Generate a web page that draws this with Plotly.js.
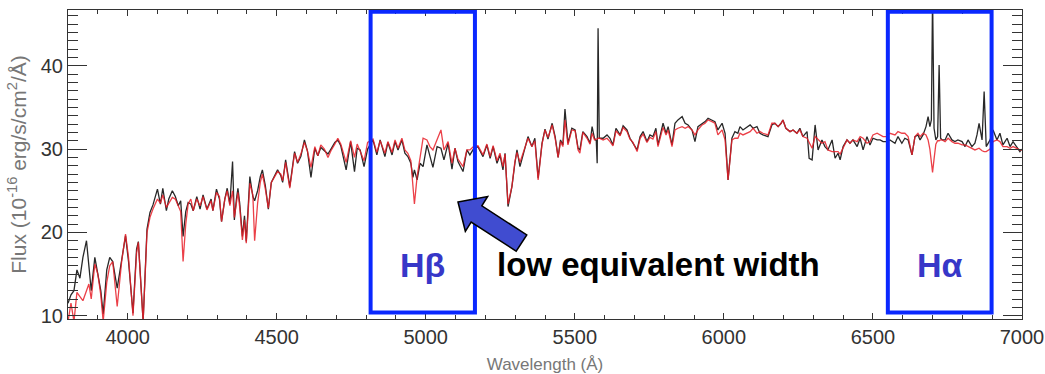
<!DOCTYPE html>
<html><head><meta charset="utf-8">
<script src="https://cdn.plot.ly/plotly-3.0.1.min.js"></script>
<style>html,body{margin:0;padding:0;background:#fff;} #chart{width:1045px;height:374px;}</style>
</head><body><div id="chart"></div>
<script>
const wavelength = [
3800,3810,3820,3830,3840,3850,3862,3870,3878,3890,
3900,3910,3918,3930,3940,3950,3965,3980,3993,4003,
4018,4030,4036,4052,4065,4075,4085,4100,4110,4118,
4130,4138,4150,4160,4170,4178,4186,4195,4203,4212,
4220,4232,4243,4253,4266,4280,4286,4298,4308,4315,
4326,4334,4343,4352,4358,4365,4370,4376,4385,4392,
4398,4410,4420,4426,4436,4445,4452,4462,4472,4482,
4494,4503,4514,4520,4530,4544,4560,4570,4581,4593,
4603,4615,4628,4638,4648,4660,4672,4682,4695,4705,
4715,4733,4748,4761,4770,4780,4793,4805,4823,4836,
4847,4863,4873,4887,4897,4907,4920,4930,4940,4950,
4957,4962,4971,4981,4991,5004,5014,5024,5038,5051,
5061,5075,5088,5098,5108,5125,5138,5148,5160,5175,
5192,5205,5216,5226,5239,5249,5259,5266,5276,5289,
5299,5306,5316,5333,5343,5356,5366,5377,5390,5400,
5410,5424,5434,5444,5452,5460,5467,5477,5490,5501,
5511,5517,5527,5541,5551,5558,5566,5572,5575,5578,
5582,5595,5608,5618,5628,5638,5652,5662,5675,5685,
5695,5709,5719,5729,5742,5752,5762,5772,5779,5792,
5796,5806,5813,5826,5836,5846,5860,5870,5880,5893,
5903,5913,5927,5937,5947,5960,5970,5980,5994,6004,
6014,6027,6037,6047,6054,6064,6078,6088,6098,6111,
6121,6131,6148,6161,6171,6182,6192,6198,6208,6222,
6232,6245,6255,6265,6279,6286,6296,6306,6316,6329,
6339,6349,6363,6373,6383,6390,6400,6413,6423,6433,
6447,6457,6467,6480,6490,6500,6514,6524,6534,6545,
6557,6574,6584,6597,6607,6618,6631,6641,6651,6658,
6668,6678,6685,6691,6696,6700,6705,6711,6717,6722,
6727,6732,6742,6752,6765,6775,6785,6799,6809,6819,
6832,6842,6849,6856,6866,6873,6880,6893,6903,6916,
6926,6936,6950,6960,6970,6983,6993,7000];

const fluxObserved = [
11.5,12.5,13.0,15.5,14.5,17.0,19.0,16.0,13.0,17.0,
15.0,13.0,10.2,15.5,17.0,16.5,13.3,17.0,19.6,16.5,
10.3,18.0,18.9,9.3,20.4,22.4,23.3,25.2,23.4,25.3,
22.6,24.0,25.0,24.3,23.2,23.8,19.5,22.5,23.6,23.4,
22.6,24.3,22.8,24.5,22.8,24.0,22.6,25.2,24.0,21.3,
24.0,25.3,23.4,28.5,21.5,24.0,25.3,23.5,19.5,22.0,
18.9,26.7,24.3,23.8,25.0,26.7,27.5,25.6,22.8,26.0,
26.8,27.5,26.8,26.0,28.7,25.5,29.7,28.3,29.1,31.1,
29.8,26.6,30.1,29.2,30.2,29.8,29.4,30.0,30.8,31.1,
30.4,27.5,30.9,27.3,30.1,29.9,27.9,30.0,31.1,29.3,
31.1,29.1,30.8,29.3,30.9,29.9,31.1,29.5,29.1,28.3,
26.6,27.5,26.3,28.3,27.9,30.5,29.3,27.8,30.3,30.1,
28.7,30.7,27.6,30.1,28.5,27.3,29.9,29.3,30.0,30.3,
29.1,30.5,28.9,30.3,28.3,29.3,27.5,29.5,23.1,25.5,
28.3,29.9,27.9,30.3,31.5,30.3,31.3,26.5,30.7,32.4,
31.2,33.1,31.5,29.0,31.1,30.5,34.8,30.7,32.5,32.3,
30.1,29.9,32.1,31.5,30.7,32.7,31.3,31.0,28.3,44.5,
31.3,31.3,31.7,31.3,30.5,32.5,31.7,32.8,32.3,31.3,
30.7,29.9,31.5,32.1,30.9,31.7,31.5,32.5,30.5,32.5,
33.1,31.9,32.7,30.5,33.1,33.5,33.9,33.1,32.9,32.3,
30.9,32.7,33.1,33.3,33.7,33.5,33.3,32.3,33.1,31.9,
26.3,31.3,32.1,31.9,32.7,32.3,32.7,32.9,32.5,32.7,
31.9,31.7,31.5,32.9,33.1,32.7,33.1,33.5,32.5,32.1,
32.3,31.9,32.5,31.5,32.1,28.9,28.7,32.9,29.9,31.1,
30.3,29.9,31.1,28.9,29.5,28.7,30.3,31.1,30.7,31.1,
30.3,31.3,29.9,31.5,30.5,31.3,31.1,31.1,30.9,30.9,
31.1,30.7,31.5,30.7,31.3,31.1,29.3,31.5,31.7,31.1,
31.7,32.7,33.9,32.7,33.5,48.5,32.5,31.1,31.5,40.1,
31.3,31.1,31.1,31.9,31.1,30.9,31.1,30.9,30.3,31.1,
30.3,30.7,31.7,33.1,31.1,36.9,30.3,31.1,32.3,31.1,
31.9,30.5,31.3,30.3,30.9,30.3,29.7,30.0];

const fluxModel = [
9.3,11.5,9.3,12.8,12.3,11.8,13.0,13.8,12.0,16.2,
15.0,12.5,9.3,14.0,16.0,16.5,11.1,16.5,19.8,17.0,
10.0,17.5,18.8,9.3,20.0,21.8,22.8,24.0,23.5,24.5,
23.0,23.5,24.2,24.0,23.2,22.5,16.5,21.0,23.4,24.0,
22.6,24.0,23.2,24.3,22.7,23.8,22.6,24.8,24.3,21.3,
24.0,25.0,23.2,25.0,21.8,23.5,24.8,23.0,19.1,21.5,
18.7,25.9,24.5,19.0,23.5,26.0,27.0,25.2,22.9,26.0,
26.8,27.3,27.0,26.2,28.4,25.3,29.5,28.4,29.4,30.8,
29.8,27.8,30.3,29.2,30.5,30.0,29.0,29.8,30.6,31.3,
30.6,28.4,31.0,29.0,30.6,29.8,28.6,30.8,31.2,29.6,
31.0,29.5,30.9,29.6,31.1,30.1,31.3,29.9,29.5,28.6,
25.5,23.4,26.7,29.0,31.3,31.1,30.3,29.9,31.1,32.3,
29.9,30.9,28.3,30.1,28.8,27.9,29.9,29.9,30.3,30.4,
29.3,30.6,29.1,30.4,28.6,29.5,27.9,29.4,23.4,25.5,
28.5,29.6,28.4,30.4,31.3,30.3,31.0,26.3,30.6,32.3,
31.4,32.9,31.3,29.0,30.9,30.3,33.5,30.5,32.3,32.2,
29.9,29.5,32.0,31.3,30.6,31.9,31.1,31.2,31.2,31.3,
31.3,31.1,31.3,30.9,30.4,32.2,31.6,32.6,32.1,31.2,
30.8,29.7,31.3,31.8,30.8,31.4,31.2,32.1,30.3,32.1,
32.6,31.7,32.3,30.3,32.3,32.5,32.7,32.5,32.7,32.3,
31.7,32.3,32.9,33.1,33.5,33.3,33.1,31.7,32.3,31.1,
26.3,31.1,31.3,31.3,31.9,31.7,31.9,32.1,32.5,31.9,
32.1,31.9,31.7,33.1,33.1,32.7,33.1,33.5,32.5,32.1,
32.3,31.9,32.3,31.5,31.3,30.8,30.1,31.5,31.1,30.7,
30.9,29.9,29.7,29.7,29.7,29.4,30.1,31.1,30.7,31.1,
30.9,31.5,31.3,30.7,30.9,31.7,31.9,31.7,31.5,31.5,
31.9,31.7,32.1,31.9,31.9,31.5,29.3,31.5,31.9,31.5,
31.9,31.7,31.1,30.0,28.5,27.2,28.8,30.6,31.0,31.0,
31.1,31.1,30.9,31.3,30.9,30.7,30.7,30.5,30.5,30.3,
30.1,29.9,30.0,30.1,29.8,29.7,29.7,30.0,30.9,31.1,
30.9,30.3,30.3,30.1,30.3,30.1,29.9,29.9];

const xTickValues = [4000, 4500, 5000, 5500, 6000, 6500, 7000];
const yTickValues = [10, 20, 30, 40];
const boxStart = [4815, 6550];
const boxEnd = [5165, 6898];
const boxLabels = ['H\u03B2', 'H\u03B1'];
const noteText = 'low equivalent width';

// layout geometry
const W = 1045, H = 374;
const M = {l: 68, r: 23, t: 10, b: 55};
const PW = W - M.l - M.r, PH = H - M.t - M.b;
function paper(px, py) { return [((px - M.l) / PW).toFixed(4), ((H - M.b - py) / PH).toFixed(4)]; }

const arrowPix = [[458,202],[487.7,196.5],[481.8,205.8],[526.8,234.9],[516.2,251.1],[471.2,222.0],[465.3,231.3]];
const arrowPath = 'M ' + arrowPix.map(p => paper(p[0], p[1]).join(',')).join(' L ') + ' Z';

const traceObs = {
  x: wavelength, y: fluxObserved, type: 'scatter', mode: 'lines',
  line: {color: 'rgb(40,40,40)', width: 1.3}, hoverinfo: 'skip', showlegend: false
};
const traceModel = {
  x: wavelength, y: fluxModel, type: 'scatter', mode: 'lines',
  line: {color: 'rgb(232,30,40)', width: 1.3}, opacity: 0.85, hoverinfo: 'skip', showlegend: false
};

const shapes = boxStart.map((x0, i) => ({
  type: 'rect', xref: 'x', yref: 'y', x0: x0, x1: boxEnd[i], y0: 10.38, y1: 46.5,
  line: {color: 'rgb(10,40,255)', width: 4}, fillcolor: 'rgba(0,0,0,0)', layer: 'above'
}));
shapes.push({type: 'path', xref: 'paper', yref: 'paper', path: arrowPath,
  fillcolor: 'rgb(64,76,208)', line: {color: '#000', width: 1.5}, layer: 'above'});

const annotations = boxStart.map((x0, i) => ({
  x: (x0 + boxEnd[i]) / 2, xref: 'x', y: 0.175, yref: 'paper', text: '<b>' + boxLabels[i] + '</b>',
  showarrow: false, font: {family: 'Liberation Sans, Arial, sans-serif', size: 34, color: 'rgb(55,55,200)'},
  xanchor: 'center', yanchor: 'middle'
}));
annotations.push({
  x: 0.619, xref: 'paper', y: 0.175, yref: 'paper', text: '<b>' + noteText + '</b>', showarrow: false,
  font: {family: 'Liberation Sans, Arial, sans-serif', size: 33, color: '#000'}, xanchor: 'center', yanchor: 'middle'
});

const tickFont = {family: 'Liberation Sans Narrow, Liberation Sans, Arial, sans-serif', size: 20, color: '#333'};
const xTitleFont = {family: 'Liberation Sans Narrow, Liberation Sans, Arial, sans-serif', size: 17, color: '#777'};
const yTitleFont = {family: 'Liberation Sans, Arial, sans-serif', size: 21, color: '#777'};

const layout = {
  width: W, height: H, margin: M, paper_bgcolor: '#fff', plot_bgcolor: '#fff', showlegend: false,
  xaxis: {
    range: [3800, 7000], tickmode: 'array', tickvals: xTickValues, ticktext: xTickValues.map(String),
    ticks: 'inside', ticklen: 6, tickwidth: 1, tickcolor: '#333',
    minor: {ticks: 'inside', dtick: 100, tick0: 3800, ticklen: 4, tickcolor: '#333', showgrid: false},
    showline: true, linecolor: '#333', linewidth: 1, mirror: 'ticks', showgrid: false, zeroline: false,
    tickfont: tickFont, title: {text: 'Wavelength (Å)', font: xTitleFont, standoff: 11}, automargin: false
  },
  yaxis: {
    range: [9.6, 46.7], tickmode: 'array', tickvals: yTickValues, ticktext: yTickValues.map(String),
    ticks: 'inside', ticklen: 19, tickwidth: 1, tickcolor: '#333',
    minor: {ticks: 'inside', dtick: 1, tick0: 0, ticklen: 10, tickcolor: '#333', showgrid: false},
    showline: true, linecolor: '#333', linewidth: 1, mirror: 'ticks', showgrid: false, zeroline: false,
    tickfont: tickFont, title: {text: 'Flux (10<sup>-16</sup> erg/s/cm<sup>2</sup>/Å)', font: yTitleFont, standoff: 8}, automargin: false
  },
  shapes: shapes, annotations: annotations
};

Plotly.newPlot('chart', [traceObs, traceModel], layout, {staticPlot: true, displayModeBar: false});
</script>
</body></html>
